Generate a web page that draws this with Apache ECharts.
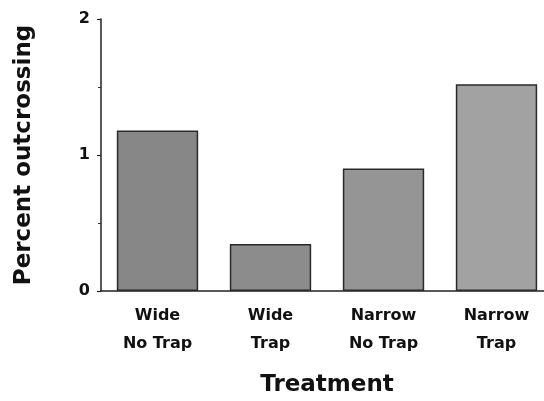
<!DOCTYPE html>
<html>
<head>
<meta charset="utf-8">
<script src="https://cdn.jsdelivr.net/npm/echarts@6/dist/echarts.min.js"></script>
<style>
html,body{margin:0;padding:0;background:#fff;}
#chart{width:544px;height:401px;}
</style>
</head>
<body>
<div id="chart"></div>
<script>
const categories = ['Wide\nNo Trap', 'Wide\nTrap', 'Narrow\nNo Trap', 'Narrow\nTrap'];
const outcrossing = [1.18, 0.345, 0.90, 1.52];
const barColors = ['#878787', '#8c8c8c', '#959595', '#a2a2a2'];
const yTicks = [0, 1, 2];

const chart = echarts.init(document.getElementById('chart'), null, {renderer: 'canvas'});
const font = '"DejaVu Sans", Arial, sans-serif';
chart.setOption({
  animation: false,
  backgroundColor: '#ffffff',
  grid: {left: 101, width: 452, top: 19, bottom: 110, containLabel: false, outerBoundsMode: 'none'},
  xAxis: {
    type: 'category',
    data: categories,
    name: 'Treatment',
    nameLocation: 'middle',
    nameGap: 83,
    nameTextStyle: {fontFamily: font, fontWeight: 'bold', fontSize: 23, color: '#111'},
    axisLine: {show: true, lineStyle: {color: '#222', width: 1.5}},
    axisTick: {show: false},
    axisLabel: {fontFamily: font, fontWeight: 'bold', fontSize: 16, color: '#111', lineHeight: 28, margin: 11, interval: 0}
  },
  yAxis: {
    type: 'value',
    min: yTicks[0],
    max: yTicks[yTicks.length - 1],
    interval: 1,
    name: 'Percent outcrossing',
    nameLocation: 'middle',
    nameGap: 65,
    nameTextStyle: {fontFamily: font, fontWeight: 'bold', fontSize: 23, color: '#111'},
    axisLine: {show: true, lineStyle: {color: '#222', width: 1.5}},
    axisTick: {show: true, length: 4, lineStyle: {color: '#222', width: 1.2}},
    minorTick: {show: true, splitNumber: 2, length: 3, lineStyle: {color: '#333', width: 1}},
    splitLine: {show: false},
    axisLabel: {fontFamily: font, fontWeight: 'bold', fontSize: 16, color: '#111', margin: 11}
  },
  series: [{
    type: 'bar',
    barWidth: '72%',
    data: outcrossing.map((v, i) => ({value: v, itemStyle: {color: barColors[i]}})),
    itemStyle: {borderColor: '#2a2a2a', borderWidth: 1.5}
  }]
});
</script>
</body>
</html>
